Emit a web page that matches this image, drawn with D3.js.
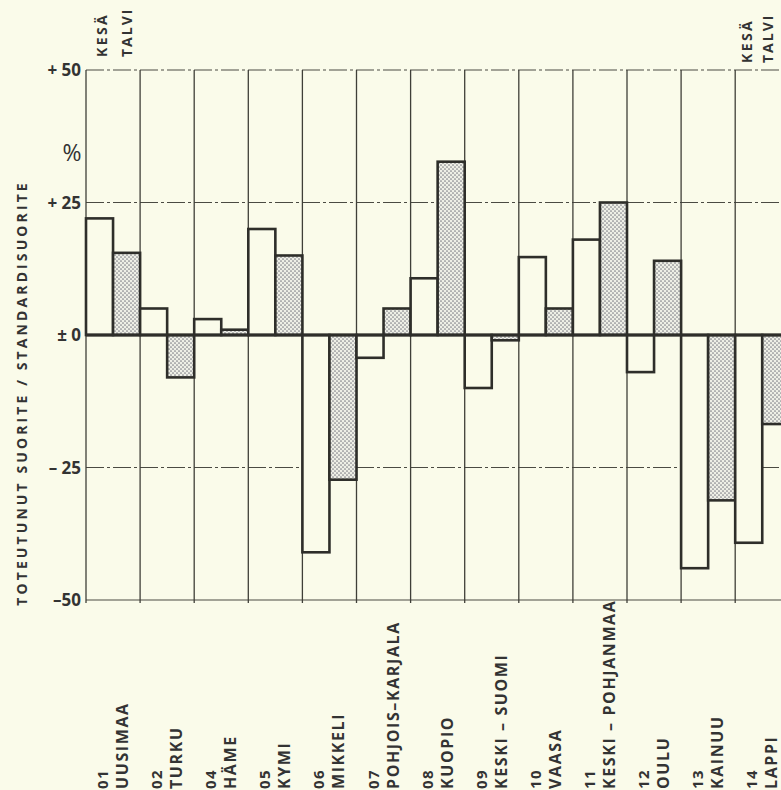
<!DOCTYPE html>
<html><head><meta charset="utf-8">
<script src="https://cdn.jsdelivr.net/npm/d3@7"></script>
<style>
html,body{margin:0;padding:0;background:#fafbea;}
svg{display:block;}
text{font-family:"Open Sans","DejaVu Sans",sans-serif;fill:#333;}
</style></head>
<body>
<svg id="chart" width="781" height="790"></svg>
<script>
const codes = ["01","02","04","05","06","07","08","09","10","11","12","13","14"];
const names = ["UUSIMAA","TURKU","HÄME","KYMI","MIKKELI","POHJOIS–KARJALA","KUOPIO","KESKI – SUOMI","VAASA","KESKI – POHJANMAA","OULU","KAINUU","LAPPI"];
const series = ["KESÄ","TALVI"];
const kesa  = [22, 5, 3, 20, -41, -4.3, 10.7, -10, 14.7, 18, -7, -44, -39.2];
const talvi = [15.5, -8, 1, 15, -27.3, 5, 32.7, -1, 5, 25, 14, -31.2, -16.8];
const yTicks = [50, 25, 0, -25, -50];
const yTickLabels = ["+ 50", "+ 25", "± 0", "– 25", "–50"];
const yTitle = "TOTEUTUNUT  SUORITE  /  STANDARDISUORITE";
const unitLabel = "%";

const svg = d3.select("#chart");
const W = 781, H = 790;
svg.append("rect").attr("width", W).attr("height", H).attr("fill", "#fafbea");

const x = d3.scaleBand().domain(codes).range([86, 86 + 13 * 54.1]).padding(0);
const xs = d3.scaleBand().domain(series).range([0, x.bandwidth()]).padding(0);
const y = d3.scaleLinear().domain([-50, 50]).range([600, 70]);

// dot pattern
const defs = svg.append("defs");
const pat = defs.append("pattern").attr("id", "dots").attr("patternUnits", "userSpaceOnUse")
  .attr("width", 4).attr("height", 4);
pat.append("rect").attr("width", 4).attr("height", 4).attr("fill", "#eeefe6");
pat.append("circle").attr("cx", 1).attr("cy", 1).attr("r", 0.85).attr("fill", "#7f8088");
pat.append("circle").attr("cx", 3).attr("cy", 3).attr("r", 0.85).attr("fill", "#7f8088");

const xL = 86, xR = W + 10;
// horizontal grid
const g = svg.append("g");
yTicks.filter(t => t !== 0).forEach(t => {
  g.append("line").attr("x1", xL).attr("x2", xR).attr("y1", y(t)).attr("y2", y(t))
    .attr("stroke", "#4a4a42").attr("stroke-width", 1.2)
    .attr("stroke-dasharray", t === -50 ? null : "18,3,3,3");
});
// vertical grid
codes.forEach(c => {
  g.append("line").attr("x1", x(c)).attr("x2", x(c)).attr("y1", y(50)).attr("y2", y(-50) + 3)
    .attr("stroke", "#3f3f38").attr("stroke-width", 1.3);
});

// bars
const rows = codes.map((c, i) => ({c, vals: [{s: "KESÄ", v: kesa[i]}, {s: "TALVI", v: talvi[i]}]}));
const bars = svg.append("g");
rows.forEach(r => {
  r.vals.forEach(d => {
    bars.append("rect")
      .attr("x", x(r.c) + xs(d.s))
      .attr("y", y(Math.max(0, d.v)))
      .attr("width", xs.bandwidth())
      .attr("height", Math.abs(y(d.v) - y(0)))
      .attr("fill", d.s === "TALVI" ? "url(#dots)" : "#fafbea")
      .attr("stroke", "#2e2e2a").attr("stroke-width", 2.6);
  });
});
// zero line
svg.append("line").attr("x1", xL).attr("x2", xR).attr("y1", y(0)).attr("y2", y(0))
  .attr("stroke", "#2e2e2a").attr("stroke-width", 3);

// y tick labels
yTicks.forEach((t, i) => {
  svg.append("text").attr("x", 81).attr("y", y(t) + 6).attr("text-anchor", "end")
    .attr("font-size", 17).attr("font-weight", 700).text(yTickLabels[i]);
});
svg.append("text").attr("x", 72).attr("y", 161).attr("text-anchor", "middle")
  .attr("font-size", 23).attr("font-weight", 400).text(unitLabel);

// y title
svg.append("text").attr("transform", "translate(27,393) rotate(-90)")
  .attr("text-anchor", "middle").attr("font-size", 14).attr("font-weight", 700)
  .attr("letter-spacing", 3.1).text(yTitle);

// legends (top)
function legend(col, dxK, dxT, y0) {
  svg.append("text").attr("transform", `translate(${x(col) + dxK},${y0}) rotate(-90)`)
    .attr("font-size", 14).attr("font-weight", 700).attr("letter-spacing", 2.4).text(series[0]);
  svg.append("text").attr("transform", `translate(${x(col) + dxT},${y0}) rotate(-90)`)
    .attr("font-size", 14).attr("font-weight", 700).attr("letter-spacing", 2).text(series[1]);
}
legend(codes[0], 21, 46, 57);
legend(codes[12], 17, 38, 63);

// category labels
codes.forEach((c, i) => {
  svg.append("text").attr("transform", `translate(${x(c) + 22},789) rotate(-90)`)
    .attr("font-size", 15).attr("font-weight", 700).attr("letter-spacing", 1.5).text(c);
  svg.append("text").attr("transform", `translate(${x(c) + 42},789) rotate(-90)`)
    .attr("font-size", 16).attr("font-weight", 700).attr("letter-spacing", 1.6).text(names[i]);
});
</script>
</body></html>
